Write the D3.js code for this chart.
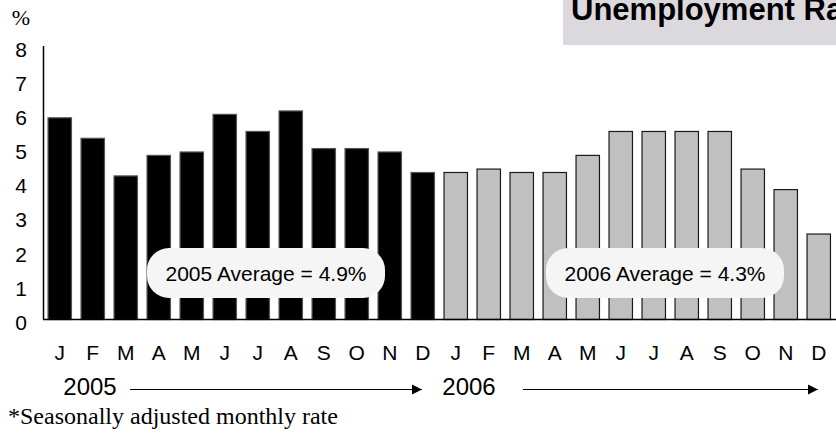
<!DOCTYPE html>
<html>
<head>
<meta charset="utf-8">
<script src="https://cdn.jsdelivr.net/npm/d3@7"></script>
<style>
  body { margin: 0; padding: 0; overflow: hidden; background: #fff; }
  text { font-family: "Liberation Sans", Arial, sans-serif; }
</style>
</head>
<body>
<script>
    const width = 836;
    const height = 434;
    const serif = "'Liberation Serif', 'DejaVu Serif', 'Times New Roman', serif";

    // monthly rates
    const months = ["J", "F", "M", "A", "M", "J", "J", "A", "S", "O", "N", "D"];
    const rates2005 = [5.9, 5.3, 4.2, 4.8, 4.9, 6.0, 5.5, 6.1, 5.0, 5.0, 4.9, 4.3];
    const rates2006 = [4.3, 4.4, 4.3, 4.3, 4.8, 5.5, 5.5, 5.5, 5.5, 4.4, 3.8, 2.5];
    const yTicks = [0, 1, 2, 3, 4, 5, 6, 7, 8];
    const years = ["2005", "2006"];
    const averages = ["2005 Average = 4.9%", "2006 Average = 4.3%"];

    const data = rates2005.map((v, i) => ({ year: 2005, month: months[i], value: v }))
      .concat(rates2006.map((v, i) => ({ year: 2006, month: months[i], value: v })));

    const svg = d3.select("body").append("svg")
      .attr("width", width)
      .attr("height", height);

    const x = d3.scaleBand()
      .domain(d3.range(data.length))
      .range([43.25, 835.25])
      .paddingInner(0.29)
      .paddingOuter(0.145);

    const y = d3.scaleLinear()
      .domain([0, 8])
      .range([319.5, 46]);

    // title box, cut off by the right edge like the original
    svg.append("rect")
      .attr("x", 563).attr("y", 0)
      .attr("width", 280).attr("height", 45)
      .style("fill", "#dcd9de");
    svg.append("text")
      .attr("x", 571).attr("y", 20)
      .style("font-size", "31px")
      .style("font-weight", "bold")
      .style("fill", "#000")
      .text("Unemployment Rate*");

    svg.append("text")
      .attr("x", 21).attr("y", 25)
      .attr("text-anchor", "middle")
      .style("font-family", serif)
      .style("font-size", "22px")
      .text("%");

    // bars
    svg.selectAll("rect.bar")
      .data(data)
      .enter().append("rect")
      .attr("class", "bar")
      .attr("x", (d, i) => x(i))
      .attr("y", d => y(d.value))
      .attr("width", x.bandwidth())
      .attr("height", d => y(0) - y(d.value))
      .style("fill", d => d.year === 2005 ? "#000" : "#c0c0c0")
      .style("stroke", d => d.year === 2005 ? "#555" : "#1a1a1a")
      .style("stroke-width", 1.2);

    // axes lines
    svg.append("line")
      .attr("x1", 43.5).attr("x2", 43.5)
      .attr("y1", y(8)).attr("y2", y(0))
      .style("stroke", "#000").style("stroke-width", 1.5);
    svg.append("line")
      .attr("x1", 43).attr("x2", width)
      .attr("y1", y(0)).attr("y2", y(0))
      .style("stroke", "#000").style("stroke-width", 1.5);

    svg.selectAll("text.ytick")
      .data(yTicks)
      .enter().append("text")
      .attr("class", "ytick")
      .attr("x", 21)
      .attr("y", d => y(d) + 10.5)
      .attr("text-anchor", "middle")
      .style("font-size", "21px")
      .text(d => d);

    svg.selectAll("text.month")
      .data(data)
      .enter().append("text")
      .attr("class", "month")
      .attr("x", (d, i) => x(i) + x.bandwidth() / 2)
      .attr("y", 360)
      .attr("text-anchor", "middle")
      .style("font-size", "21px")
      .text(d => d.month);

    // average call-outs
    const boxes = [
      { cx: 266, label: averages[0] },
      { cx: 665, label: averages[1] }
    ];
    svg.selectAll("rect.avg")
      .data(boxes)
      .enter().append("rect")
      .attr("class", "avg")
      .attr("x", d => d.cx - 119)
      .attr("y", 248)
      .attr("width", 238)
      .attr("height", 50)
      .attr("rx", 22)
      .style("fill", "#f5f5f5");
    svg.selectAll("text.avg")
      .data(boxes)
      .enter().append("text")
      .attr("class", "avg")
      .attr("x", d => d.cx)
      .attr("y", 281)
      .attr("text-anchor", "middle")
      .style("font-size", "21px")
      .text(d => d.label);

    // year arrows
    const defs = svg.append("defs");
    defs.append("marker")
      .attr("id", "arrow")
      .attr("viewBox", "0 0 10 10")
      .attr("refX", 10).attr("refY", 5)
      .attr("markerWidth", 10).attr("markerHeight", 12)
      .attr("markerUnits", "userSpaceOnUse")
      .attr("orient", "auto")
      .append("path")
      .attr("d", "M0,0L10,5L0,10Z")
      .style("fill", "#000");

    const yearRows = [
      { label: years[0], tx: 90, x1: 130, x2: 422 },
      { label: years[1], tx: 469, x1: 523, x2: 818 }
    ];
    svg.selectAll("text.year")
      .data(yearRows)
      .enter().append("text")
      .attr("class", "year")
      .attr("x", d => d.tx)
      .attr("y", 395)
      .attr("text-anchor", "middle")
      .style("font-size", "24px")
      .text(d => d.label);
    svg.selectAll("line.year")
      .data(yearRows)
      .enter().append("line")
      .attr("class", "year")
      .attr("x1", d => d.x1).attr("x2", d => d.x2)
      .attr("y1", 389.5).attr("y2", 389.5)
      .attr("marker-end", "url(#arrow)")
      .style("stroke", "#000").style("stroke-width", 1);

    svg.append("text")
      .attr("x", 8).attr("y", 424)
      .style("font-family", serif)
      .style("font-size", "24px")
      .text("*Seasonally adjusted monthly rate");
</script>
</body>
</html>
